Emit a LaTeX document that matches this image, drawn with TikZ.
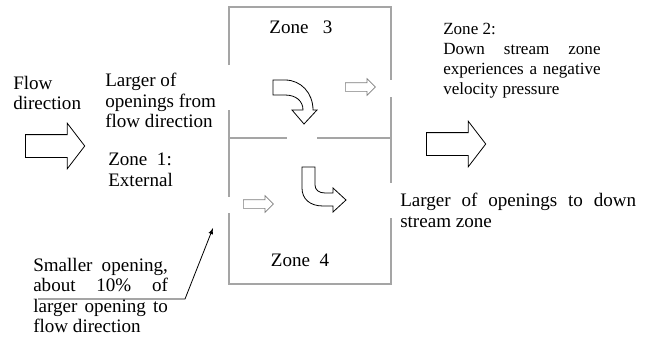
\documentclass[tikz,border=0pt]{standalone}
\usepackage{fontspec}
\setmainfont{Liberation Serif}
\usetikzlibrary{arrows,shapes.arrows}

\definecolor{wallgray}{RGB}{165,165,165}
\definecolor{ventgray}{RGB}{125,125,125}

\begin{document}
\begin{tikzpicture}[x=0.75pt,y=-0.75pt,
  wall/.style={wallgray,line width=1.8pt},
  label/.style={inner sep=0pt,font=\fontsize{14.3}{15.3}\selectfont},
  note/.style={label,anchor=north west,align=justify},
  bigflow/.style={single arrow,draw=black,line width=0.6pt,inner xsep=0pt,inner ysep=8.25pt,
    minimum height=44.5pt,single arrow head extend=8.5pt,single arrow tip angle=105,anchor=tail},
  vent/.style={single arrow,draw=ventgray,line width=0.5pt,inner xsep=0pt,inner ysep=3pt,
    minimum height=22.5pt,single arrow head extend=3pt,anchor=tail},
  turn/.style={draw=black,line width=0.6pt}]
\useasboundingbox (0,0) rectangle (650,343);

% walls of the two zones
\draw[wall] (229,65) -- (229,7) -- (391,7) -- (391,80);
\draw[wall] (229,110) -- (229,197);
\draw[wall] (391,97) -- (391,183);
\draw[wall] (229,213) -- (229,284) -- (391,284) -- (391,218);
\draw[wall] (229,138) -- (287,138);
\draw[wall] (317,138) -- (391,138);

% big flow arrows
\node[bigflow] (bigin) at (25,146) {};
\node[bigflow] (bigout) at (426,144) {};

% small flows through openings
\node[vent] (ventup) at (345,87) {};
\node[vent] (ventlow) at (243,204) {};

% bent arrows between zone 3 and zone 4
\draw[turn] (273,80) -- (285,80) .. controls (301,80) and (313,93) .. (313,110)
  -- (317,110) -- (304,124) -- (292,110) -- (303,110)
  .. controls (303,101) and (296,95) .. (285,95) -- (273,95) -- cycle;
\draw[turn] (302,167) -- (315,167) -- (315,185) .. controls (315,190) and (319,193) .. (325,193)
  -- (333,193) -- (333,188) -- (346,200) -- (333,212) -- (333,206) -- (323,206)
  .. controls (310,206) and (302,199) .. (302,188) -- cycle;

% texts
\node[label,anchor=north west,align=left] (flowtxt) at (13,76) {Flow\\direction};
\node[label,anchor=north west,align=left] (openfrom) at (105,73) {Larger of\\openings from\\flow direction};
\node[label,anchor=north west,align=left] (zoneone) at (108,153) {Zone\enspace 1:\\External};
\node[label] (zonethree) at (301,27) {Zone\enspace\ 3};
\node[label] (zonefour) at (300,260) {Zone\ \ 4};
\node[note,text width=118pt,font=\fontsize{12.8}{15}\selectfont] (zonetwo) at (443,23)
  {Zone 2:\\Down stream zone\linebreak experiences a negative\linebreak velocity pressure};
\node[note,text width=177pt] (opento) at (400,193) {Larger of openings to down\linebreak stream zone};
\node[note,text width=101pt] (smallopen) at (33,258)
  {Smaller opening,\linebreak about 10\% of\linebreak larger opening to\linebreak flow direction};

% pointer to the small opening
\coordinate (leadstart) at (38,299);
\coordinate (leadknee) at (185,299);
\coordinate (gaptip) at (213,228);
\draw[-latex,line width=0.6pt] (leadstart) -- (leadknee) -- (gaptip);
\end{tikzpicture}
\end{document}
